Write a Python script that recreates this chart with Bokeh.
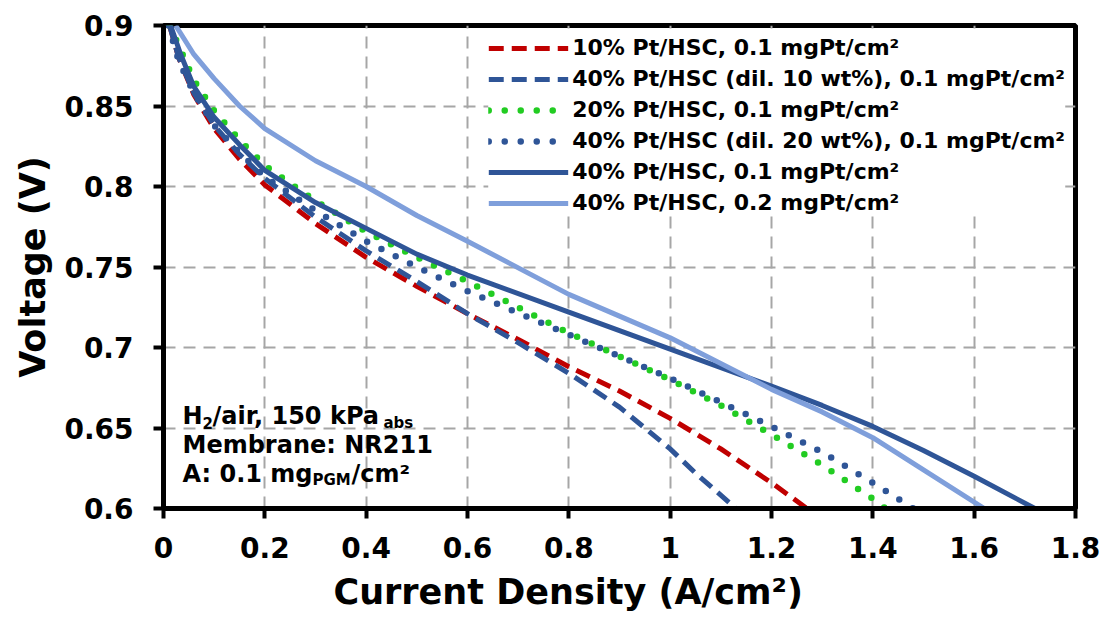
from bokeh.plotting import figure
from bokeh.models import Range1d, FixedTicker, Legend, LegendItem, Label, Title
from bokeh.embed import file_html
from bokeh.resources import INLINE

# ---------------- data ----------------
x_ticks = [0, 0.2, 0.4, 0.6, 0.8, 1.0, 1.2, 1.4, 1.6, 1.8]
x_tick_labels = ["0", "0.2", "0.4", "0.6", "0.8", "1", "1.2", "1.4", "1.6", "1.8"]
y_ticks = [0.6, 0.65, 0.7, 0.75, 0.8, 0.85, 0.9]
y_tick_labels = ["0.6", "0.65", "0.7", "0.75", "0.8", "0.85", "0.9"]
x_title = "Current Density (A/cm²)"
y_title = "Voltage (V)"

series_labels = [
    "10% Pt/HSC, 0.1 mgPt/cm²",
    "40% Pt/HSC (dil. 10 wt%), 0.1 mgPt/cm²",
    "20% Pt/HSC, 0.1 mgPt/cm²",
    "40% Pt/HSC (dil. 20 wt%), 0.1 mgPt/cm²",
    "40% Pt/HSC, 0.1 mgPt/cm²",
    "40% Pt/HSC, 0.2 mgPt/cm²",
]

x_10 = [0.012, 0.03, 0.06, 0.1, 0.15, 0.2, 0.3, 0.4, 0.5, 0.6, 0.7, 0.8, 0.9, 1.0, 1.1, 1.2, 1.27]
v_10 = [0.9, 0.88, 0.857, 0.836, 0.817, 0.801, 0.777, 0.756, 0.738, 0.721, 0.705, 0.688, 0.673, 0.656, 0.637, 0.616, 0.6]

x_dil10 = [0.012, 0.03, 0.06, 0.1, 0.15, 0.2, 0.3, 0.4, 0.5, 0.6, 0.7, 0.8, 0.9, 1.0, 1.05, 1.13]
v_dil10 = [0.9, 0.88, 0.858, 0.838, 0.82, 0.805, 0.781, 0.76, 0.741, 0.721, 0.703, 0.684, 0.663, 0.637, 0.622, 0.6]

x_20 = [0.012, 0.035, 0.06, 0.1, 0.15, 0.2, 0.3, 0.4, 0.5, 0.6, 0.8, 1.0, 1.1, 1.2, 1.3, 1.4, 1.425]
v_20 = [0.9, 0.884, 0.866, 0.847, 0.829, 0.813, 0.791, 0.772, 0.756, 0.741, 0.709, 0.68, 0.664, 0.646, 0.627, 0.606, 0.6]

x_dil20 = [0.01, 0.03, 0.06, 0.1, 0.15, 0.2, 0.3, 0.4, 0.5, 0.6, 0.8, 1.0, 1.1, 1.2, 1.3, 1.4, 1.48]
v_dil20 = [0.9, 0.878, 0.858, 0.838, 0.821, 0.806, 0.785, 0.766, 0.75, 0.735, 0.708, 0.681, 0.666, 0.651, 0.635, 0.616, 0.6]

x_40 = [0.014, 0.034, 0.06, 0.1, 0.15, 0.2, 0.3, 0.4, 0.5, 0.6, 0.8, 1.0, 1.2, 1.3, 1.4, 1.5, 1.6, 1.72]
v_40 = [0.9, 0.882, 0.862, 0.843, 0.826, 0.81, 0.79, 0.774, 0.758, 0.745, 0.722, 0.699, 0.676, 0.664, 0.651, 0.636, 0.62, 0.6]

x_40h = [0.024, 0.06, 0.1, 0.15, 0.2, 0.3, 0.4, 0.5, 0.6, 0.8, 1.0, 1.2, 1.3, 1.4, 1.5, 1.62]
v_40h = [0.9, 0.882, 0.867, 0.85, 0.836, 0.816, 0.8, 0.782, 0.766, 0.733, 0.706, 0.674, 0.66, 0.644, 0.624, 0.6]

# ---------------- figure ----------------
FONT = "DejaVu Sans"

p = figure(width=1103, height=620, output_backend="svg", toolbar_location=None,
           x_range=Range1d(0, 1.8), y_range=Range1d(0.6, 0.9),
           min_border_left=163, min_border_right=28, min_border_top=25, min_border_bottom=112,
           background_fill_color="white", border_fill_color="white")

p.outline_line_color = "black"
p.outline_line_width = 5

for ax, ticks, labels in ((p.xaxis, x_ticks, x_tick_labels), (p.yaxis, y_ticks, y_tick_labels)):
    ax.ticker = FixedTicker(ticks=ticks)
    ax.major_label_overrides = {t: l for t, l in zip(ticks, labels)}
    ax.axis_line_color = "black"
    ax.axis_line_width = 5
    ax.major_tick_line_color = "black"
    ax.major_tick_line_width = 4
    ax.major_tick_out = 10
    ax.major_tick_in = 0
    ax.minor_tick_line_color = None
    ax.major_label_text_font = FONT
    ax.major_label_text_font_style = "bold"
    ax.major_label_text_font_size = "28px"
    ax.major_label_text_color = "black"
    ax.axis_label_text_font = FONT
    ax.axis_label_text_font_style = "bold"
    ax.axis_label_text_font_size = "35px"
    ax.axis_label_text_color = "black"

p.yaxis.axis_label = y_title
p.xaxis.major_label_standoff = 18
p.yaxis.major_label_standoff = 20
p.yaxis.axis_label_standoff = 8

# x-axis title: placed left of centre as in the reference
p.add_layout(Title(text=x_title, align="left", offset=170, standoff=18,
                   text_font=FONT, text_font_style="bold", text_font_size="35px",
                   text_color="black"), "below")

for g in (p.xgrid, p.ygrid):
    g.grid_line_color = "#A6A6A6"
    g.grid_line_width = 2
    g.grid_line_dash = "12 8"

red = "#C00000"
dblue = "#2F5597"
lblue = "#7F9FDB"
green = "#22CC22"

r1 = p.line(x_10, v_10, line_color=red, line_width=5, line_dash="15 8", line_join="round")
r2 = p.line(x_dil10, v_dil10, line_color=dblue, line_width=5, line_dash="15 8", line_join="round")
r3 = p.line(x_20, v_20, line_color=green, line_width=6.5, line_dash="0 16", line_cap="round")
r4 = p.line(x_dil20, v_dil20, line_color=dblue, line_width=6.5, line_dash="0 16", line_cap="round")
r5 = p.line(x_40, v_40, line_color=dblue, line_width=5, line_join="round")
r6 = p.line(x_40h, v_40h, line_color=lblue, line_width=5, line_join="round")

legend = Legend(
    items=[LegendItem(label=lab, renderers=[r]) for lab, r in zip(series_labels, [r1, r2, r3, r4, r5, r6])],
    location="top_right",
    margin=10, padding=5, spacing=6,
    glyph_width=80, glyph_height=24, label_standoff=4,
    label_text_font=FONT, label_text_font_style="bold", label_text_font_size="22px",
    label_text_color="black",
    background_fill_color="white", background_fill_alpha=1.0,
    border_line_color=None,
)
p.add_layout(legend)

# ---------------- annotation text block ----------------
ann = dict(text_font=FONT, text_font_style="bold", text_color="black", text_baseline="alphabetic")
BIG = "24px"
SMALL = "15px"
X0 = 19
p.add_layout(Label(x=0, y=0.6572, x_offset=X0, text="H", text_font_size=BIG, **ann))
p.add_layout(Label(x=0, y=0.6534, x_offset=X0 + 20, text="2", text_font_size=SMALL, **ann))
p.add_layout(Label(x=0, y=0.6572, x_offset=X0 + 30, text="/air, 150 kPa", text_font_size=BIG, **ann))
p.add_layout(Label(x=0, y=0.6534, x_offset=X0 + 201, text="abs", text_font_size=SMALL, **ann))
p.add_layout(Label(x=0, y=0.6394, x_offset=X0, text="Membrane: NR211", text_font_size=BIG, **ann))
p.add_layout(Label(x=0, y=0.6214, x_offset=X0, text="A: 0.1 mg", text_font_size=BIG, **ann))
p.add_layout(Label(x=0, y=0.6176, x_offset=X0 + 130, text="PGM", text_font_size=SMALL, **ann))
p.add_layout(Label(x=0, y=0.6214, x_offset=X0 + 169, text="/cm²", text_font_size=BIG, **ann))

open("out.html", "w").write(file_html(p, INLINE))
